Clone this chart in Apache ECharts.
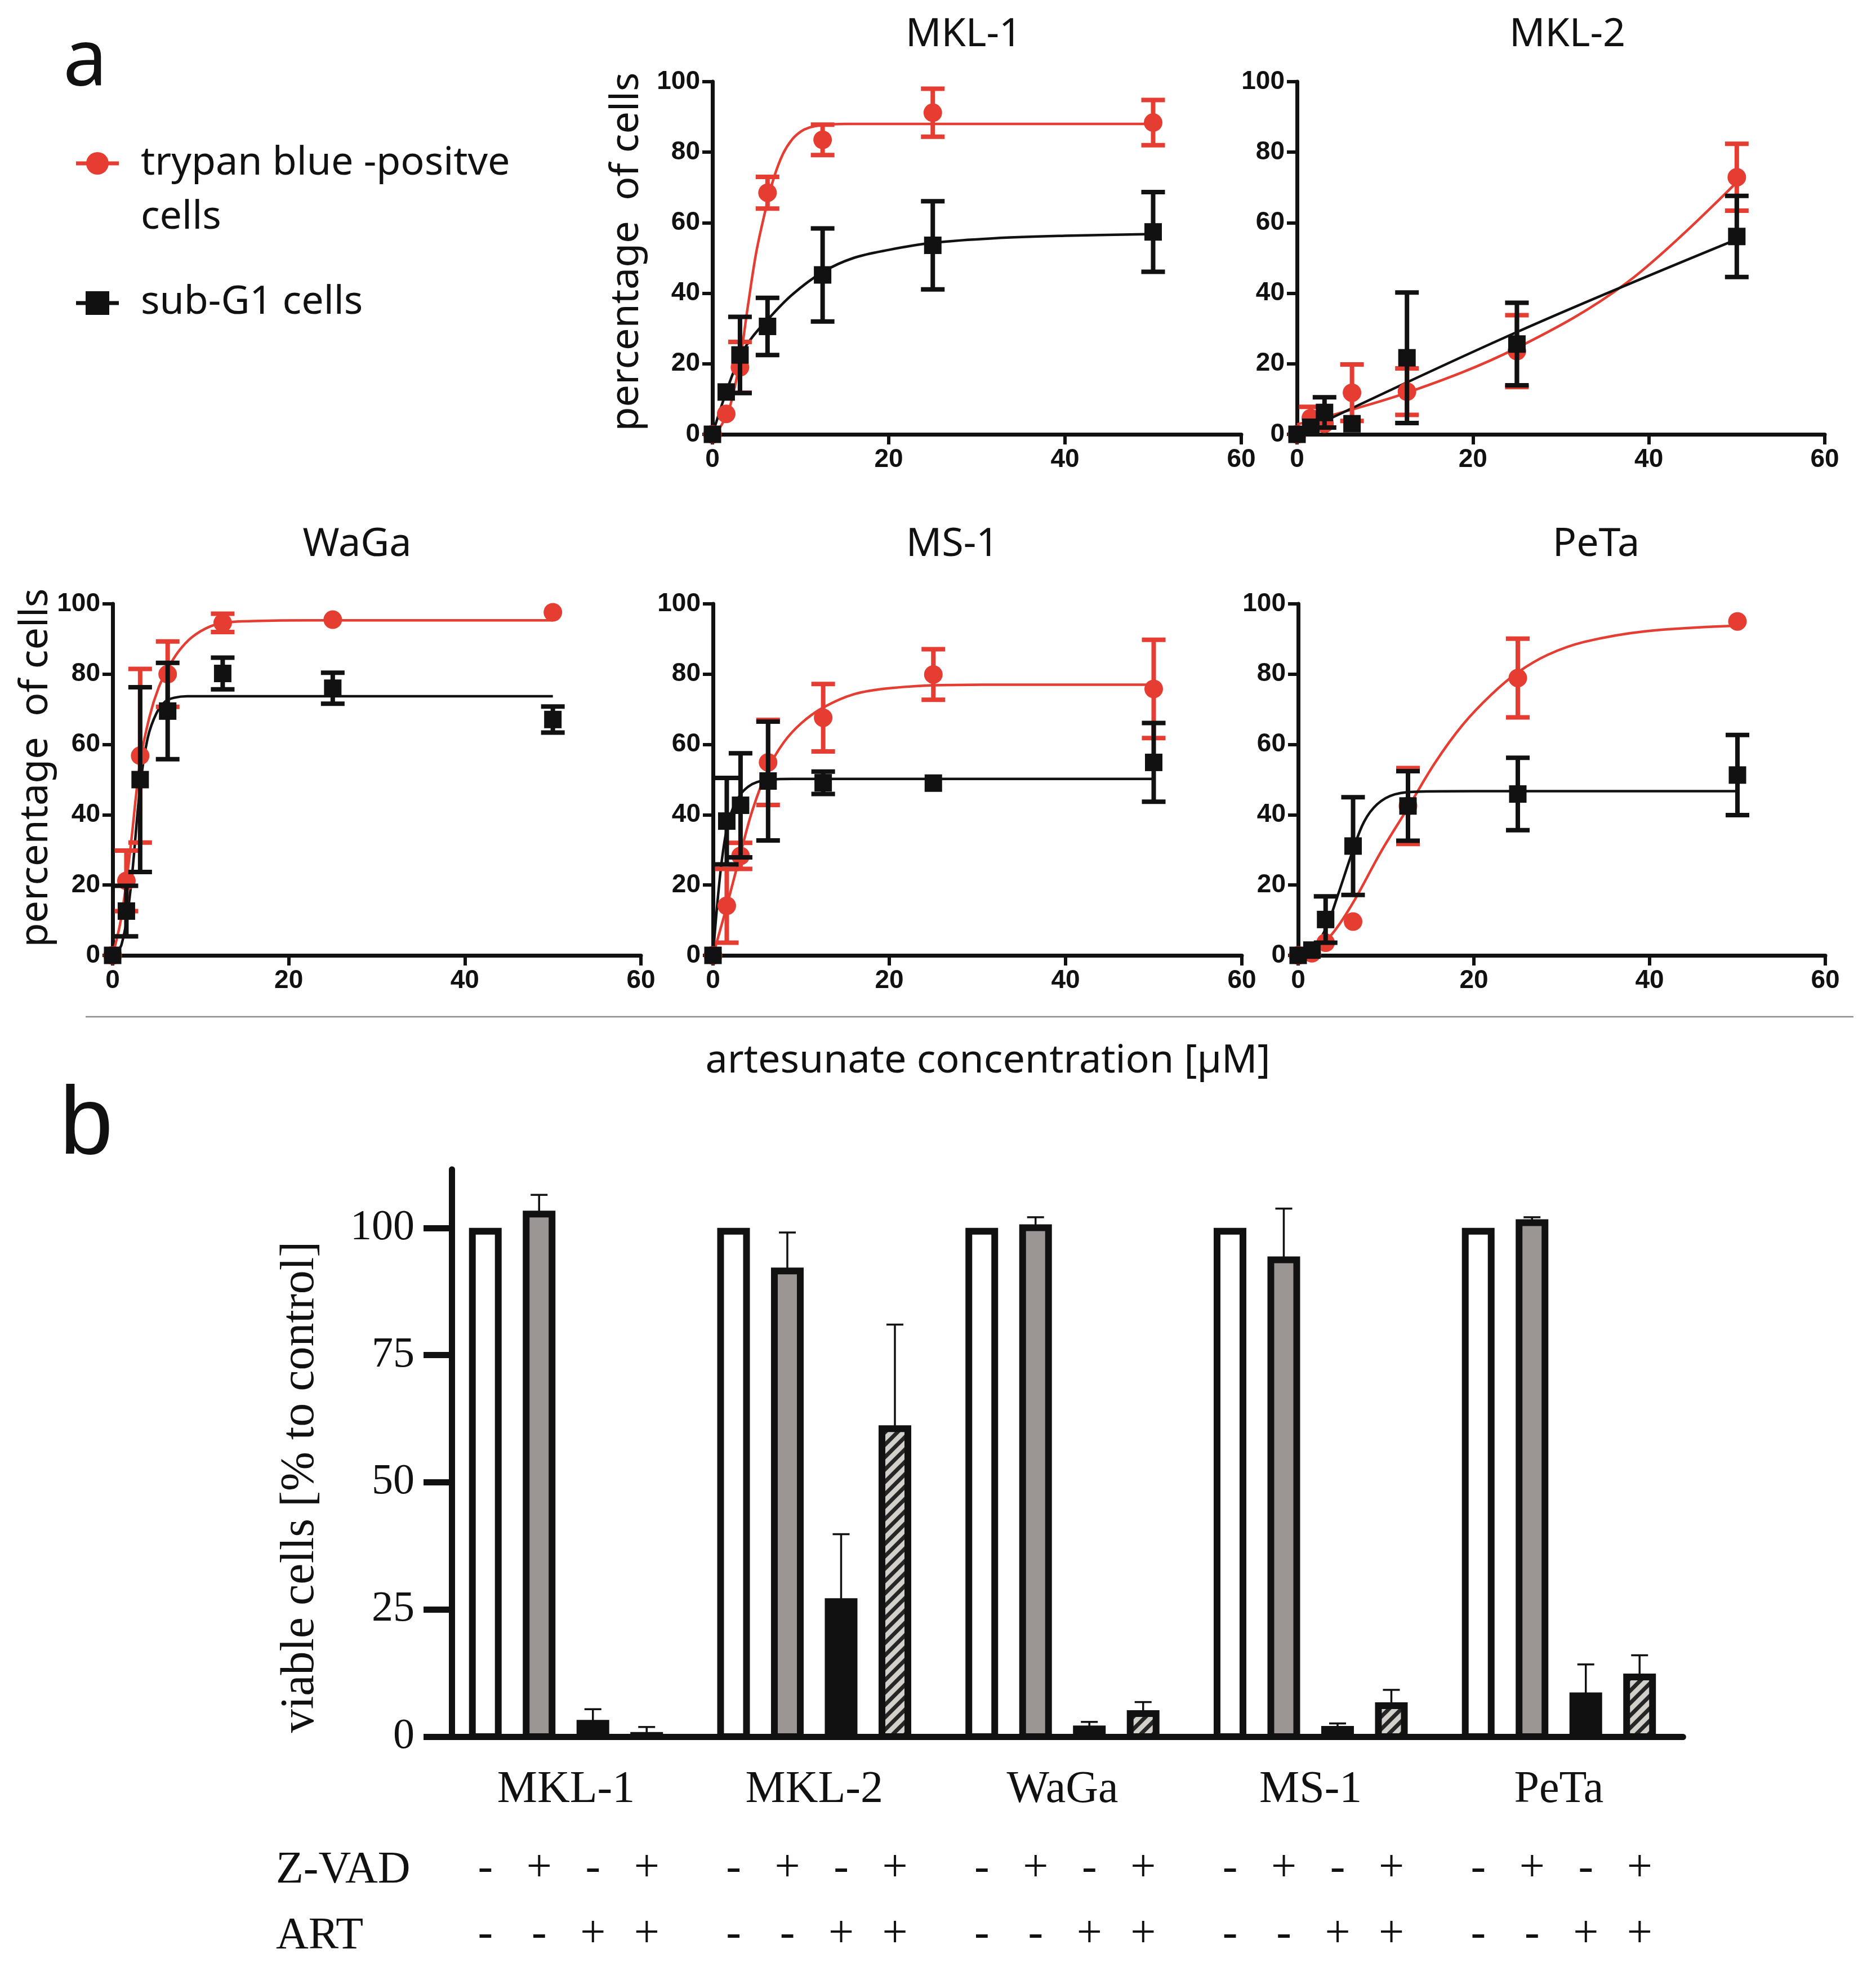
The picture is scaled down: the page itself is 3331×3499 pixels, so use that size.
<!DOCTYPE html>
<html>
<head>
<meta charset="utf-8">
<script src="https://cdn.jsdelivr.net/npm/echarts@6/dist/echarts.min.js"></script>
<style>html,body{margin:0;padding:0;background:#fff}#c{width:3331px;height:3499px}</style>
</head>
<body>
<div id="c"></div>
<script>
// ---------------- DATA ----------------
const conc = [0, 1.5625, 3.125, 6.25, 12.5, 25, 50];
const panelNames = ['MKL-1', 'MKL-2', 'WaGa', 'MS-1', 'PeTa'];
const xTicks = [0, 20, 40, 60];
const yTicks = [0, 20, 40, 60, 80, 100];

// MKL-1
const mkl1Trypan   = [0, 5.8, 19.0, 68.5, 83.5, 91.2, 88.4];
const mkl1TrypanSd = [0, 0, 7.2, 4.5, 4.3, 6.8, 6.4];
const mkl1SubG1    = [0, 12.0, 22.5, 30.6, 45.2, 53.6, 57.4];
const mkl1SubG1Sd  = [0, 0, 10.8, 8.1, 13.2, 12.5, 11.3];
const mkl1TrypanFit = [[0,0],[1,2.5],[2,8],[3.125,21],[4,36],[5,52],[6.25,66],[7,73],[8,79.5],[9,83.5],[10,85.8],[11,87],[12.5,87.7],[15,88],[20,88],[35,88],[50,88]];
const mkl1SubG1Fit  = [[0,0],[1.5625,12],[3.125,22],[4.5,27.5],[6.25,32.5],[9,39.5],[12.5,46],[16,50],[20,52.3],[25,54.3],[32,55.6],[40,56.3],[50,56.8]];

// MKL-2
const mkl2Trypan   = [0, 4.6, 3.0, 11.8, 12.1, 23.6, 72.9];
const mkl2TrypanSd = [0, 3.2, 0, 8.0, 6.6, 10.2, 9.5];
const mkl2SubG1    = [0, 2.0, 6.2, 3.0, 21.7, 25.6, 56.1];
const mkl2SubG1Sd  = [0, 0, 4.3, 0, 18.5, 11.7, 11.5];
const mkl2TrypanFit = [[0,2.8],[12.5,11.8],[25,24.5],[37.5,43],[50,71.5]];
const mkl2SubG1Fit  = [[0,0],[25,29],[50,55.3]];

// WaGa
const wagaTrypan   = [0, 21.2, 56.8, 80.0, 94.6, 95.5, 97.6];
const wagaTrypanSd = [0, 8.6, 24.7, 9.3, 2.6, 0, 0];
const wagaSubG1    = [0, 12.6, 50.0, 69.5, 80.2, 76.0, 67.1];
const wagaSubG1Sd  = [0, 7.2, 26.3, 13.7, 4.5, 4.4, 3.7];
const wagaTrypanFit = [[0,0],[1,11],[2,30],[3.125,55],[4.2,68],[5.2,76],[6.25,81.5],[7.5,86.5],[9,90.5],[11,93.5],[13,94.7],[16,95.1],[22,95.3],[50,95.3]];
const wagaSubG1Fit  = [[0,0],[1,3],[2,18],[3.125,48],[4,62],[5,69],[6,72.3],[7,73.3],[8.5,73.7],[12,73.7],[50,73.7]];

// MS-1
const ms1Trypan   = [0, 14.1, 28.3, 54.9, 67.6, 79.9, 75.8];
const ms1TrypanSd = [0, 10.5, 3.7, 12.1, 9.6, 7.2, 14.0];
const ms1SubG1    = [0, 38.2, 42.7, 49.6, 49.1, 49.0, 54.9];
const ms1SubG1Sd  = [0, 12.3, 14.8, 16.9, 3.2, 0, 11.2];
const ms1TrypanFit = [[0,0],[1.5625,14],[3.125,29],[4.5,41.5],[6.25,53],[8,60.5],[10,66],[12.5,70.5],[16,74.3],[20,76],[26,76.9],[35,77],[50,77]];
const ms1SubG1Fit  = [[0,0],[0.5,15],[1,27],[1.5625,36],[2.2,41.5],[3.125,45.8],[4,48],[5,49.3],[6.5,50],[9,50.2],[50,50.2]];

// PeTa
const petaTrypan   = [0, 0.6, 3.6, 9.6, 42.5, 78.9, 95.0];
const petaTrypanSd = [0, 0, 0, 0, 10.8, 11.2, 0];
const petaSubG1    = [0, 1.5, 10.2, 31.1, 42.5, 45.9, 51.3];
const petaSubG1Sd  = [0, 0, 6.6, 13.9, 9.9, 10.3, 11.4];
const petaTrypanFit = [[0,0],[2,1.5],[4,6.5],[6.25,15],[9.5,29.8],[12.5,42],[15.5,54.5],[18.7,65.5],[22,74.2],[25,80.5],[28.4,85.5],[32.6,89.2],[39.5,92.2],[50,93.8]];
const petaSubG1Fit  = [[0,0],[1.5625,1.5],[3.125,7.5],[4.5,17],[6.25,30],[7.5,38],[9,43],[11,45.8],[14,46.6],[20,46.7],[50,46.7]];

// Panel b: viable cells [% to control]
const barTicks = [0, 25, 50, 75, 100];
const ctrlViable    = [100, 100, 100, 100, 100];
const zvadViable    = [103.4, 92.2, 100.7, 94.4, 101.7];
const zvadViableUp  = [106.5, 99.1, 102.1, 103.8, 102.1];
const artViable     = [3.3, 27.2, 2.2, 2.1, 8.7];
const artViableUp   = [5.4, 39.8, 2.9, 2.6, 14.2];
const comboViable   = [0.9, 61.2, 5.2, 6.75, 12.4];
const comboViableUp = [1.9, 81.0, 6.8, 9.2, 16.0];
const zvadSigns = ['-', '+', '-', '+'];
const artSigns  = ['-', '-', '+', '+'];

// ---------------- STYLE ----------------
const RED = '#e53d31';
const BLK = '#111111';
const SANS = '"Noto Sans", "Open Sans", sans-serif';
const ARIAL = '"Liberation Sans", Arial, sans-serif';
const SERIF = '"Liberation Serif", "Times New Roman", serif';

const panelData = [
  [mkl1Trypan, mkl1TrypanSd, mkl1SubG1, mkl1SubG1Sd, mkl1TrypanFit, mkl1SubG1Fit],
  [mkl2Trypan, mkl2TrypanSd, mkl2SubG1, mkl2SubG1Sd, mkl2TrypanFit, mkl2SubG1Fit],
  [wagaTrypan, wagaTrypanSd, wagaSubG1, wagaSubG1Sd, wagaTrypanFit, wagaSubG1Fit],
  [ms1Trypan, ms1TrypanSd, ms1SubG1, ms1SubG1Sd, ms1TrypanFit, ms1SubG1Fit],
  [petaTrypan, petaTrypanSd, petaSubG1, petaSubG1Sd, petaTrypanFit, petaSubG1Fit]
];

const panelRects = [
  {left: 1265, top: 145, width: 939, height: 626},
  {left: 2303, top: 145, width: 937, height: 626},
  {left: 200,  top: 1072, width: 938, height: 624},
  {left: 1266, top: 1072, width: 939, height: 624},
  {left: 2305, top: 1072, width: 936, height: 624}
];
const titlePos = [[1711, 62], [2783, 62], [634, 967], [1691, 967], [2834, 967]];

function hatchPattern() {
  const c = document.createElement('canvas');
  c.width = 22; c.height = 22;
  const g = c.getContext('2d');
  g.fillStyle = '#d3cfcb';
  g.fillRect(0, 0, 22, 22);
  g.strokeStyle = '#262626';
  g.lineWidth = 7;
  g.beginPath();
  g.moveTo(-5, 27); g.lineTo(27, -5);
  g.moveTo(-16, 16); g.lineTo(16, -16);
  g.moveTo(6, 38); g.lineTo(38, 6);
  g.stroke();
  return c;
}
const barFills = ['#ffffff', '#9b9594', BLK, {image: hatchPattern(), repeat: 'repeat'}];

function errRender(color) {
  return function (params, api) {
    const x = api.value(0), m = api.value(1), sd = api.value(2);
    if (!(sd > 0)) return {type: 'group', children: []};
    const p0 = api.coord([x, m - sd]), p1 = api.coord([x, m + sd]);
    const hw = 21, lw = 8;
    const st = {stroke: color, lineWidth: lw};
    return {type: 'group', children: [
      {type: 'line', shape: {x1: p0[0], y1: p0[1], x2: p1[0], y2: p1[1]}, style: st},
      {type: 'line', shape: {x1: p0[0] - hw, y1: p0[1], x2: p0[0] + hw, y2: p0[1]}, style: st},
      {type: 'line', shape: {x1: p1[0] - hw, y1: p1[1], x2: p1[0] + hw, y2: p1[1]}, style: st}
    ]};
  };
}

const grids = [], xAxes = [], yAxes = [], series = [];
panelRects.forEach((r, i) => {
  grids.push(Object.assign({containLabel: false, outerBoundsMode: 'none'}, r));
  const axisCommon = {
    gridIndex: i, type: 'value',
    axisLine: {show: true, onZero: false, lineStyle: {color: BLK, width: 7}},
    axisTick: {show: true, length: 18, lineStyle: {color: BLK, width: 6}},
    splitLine: {show: false},
    axisLabel: {fontFamily: ARIAL, fontWeight: 'bold', fontSize: 46, color: BLK, margin: 22}
  };
  xAxes.push(Object.assign({}, axisCommon, {min: xTicks[0], max: xTicks[xTicks.length - 1], interval: 20}));
  yAxes.push(Object.assign({}, axisCommon, {min: yTicks[0], max: yTicks[yTicks.length - 1], interval: 20}));
  const [tm, tsd, sm, ssd, tfit, sfit] = panelData[i];
  series.push({type: 'line', xAxisIndex: i, yAxisIndex: i, data: tfit, smooth: 0.35, showSymbol: false, symbol: 'none', lineStyle: {color: RED, width: 4.5}, z: 2, silent: true});
  series.push({type: 'line', xAxisIndex: i, yAxisIndex: i, data: sfit, smooth: 0.35, showSymbol: false, symbol: 'none', lineStyle: {color: BLK, width: 4.5}, z: 2, silent: true});
  series.push({type: 'custom', xAxisIndex: i, yAxisIndex: i, renderItem: errRender(RED), data: conc.map((c, j) => [c, tm[j], tsd[j]]), encode: {x: 0, y: 1}, z: 3});
  series.push({type: 'scatter', xAxisIndex: i, yAxisIndex: i, data: conc.map((c, j) => [c, tm[j]]), symbol: 'circle', symbolSize: 33, itemStyle: {color: RED, opacity: 1}, z: 4});
  series.push({type: 'custom', xAxisIndex: i, yAxisIndex: i, renderItem: errRender(BLK), data: conc.map((c, j) => [c, sm[j], ssd[j]]), encode: {x: 0, y: 1}, z: 5});
  series.push({type: 'scatter', xAxisIndex: i, yAxisIndex: i, data: conc.map((c, j) => [c, sm[j]]), symbol: 'rect', symbolSize: 31, itemStyle: {color: BLK, opacity: 1}, z: 6});
});

// ---- Panel b ----
const BI = 5;
grids.push({left: 784.6, top: 2076, width: 2203.75, height: 1007, containLabel: false, outerBoundsMode: 'none'});
xAxes.push({
  gridIndex: BI, type: 'category', data: panelNames,
  axisLine: {show: true, lineStyle: {color: BLK, width: 11}},
  axisTick: {show: false}, splitLine: {show: false},
  axisLabel: {fontFamily: SERIF, fontSize: 80, color: BLK, margin: 55}
});
yAxes.push({
  gridIndex: BI, type: 'value', min: 0, max: 111.5, offset: -17.4,
  axisLine: {show: true, lineStyle: {color: BLK, width: 11}},
  axisTick: {show: true, length: 50, customValues: barTicks, lineStyle: {color: BLK, width: 11}},
  splitLine: {show: false},
  axisLabel: {fontFamily: SERIF, fontSize: 76, color: BLK, margin: 66, customValues: barTicks}
});

const barSets = [[ctrlViable, ctrlViable], [zvadViable, zvadViableUp], [artViable, artViableUp], [comboViable, comboViableUp]];
const barData = [];
panelNames.forEach((n, g) => {
  barSets.forEach((s, b) => barData.push([g, b, s[0][g], s[1][g]]));
});
const BAR_STEP = 95.5 / 440.75, BAR_W = 58, BW = 12;
series.push({
  type: 'custom', xAxisIndex: BI, yAxisIndex: BI, data: barData, encode: {x: 0, y: 2}, clip: false, z: 3,
  renderItem: function (params, api) {
    const g = api.value(0), b = api.value(1), v = api.value(2), up = api.value(3);
    const band = api.size([1, 0])[0];
    const base = api.coord([g, 0]);
    const cx = base[0] + (b - 1.5) * band * BAR_STEP;
    const topY = api.coord([g, v])[1];
    const ch = [];
    if (up > v) {
      const upY = api.coord([g, up])[1];
      ch.push({type: 'line', shape: {x1: cx, y1: topY + 2, x2: cx, y2: upY}, style: {stroke: BLK, lineWidth: 3.5}});
      ch.push({type: 'line', shape: {x1: cx - 15, y1: upY, x2: cx + 15, y2: upY}, style: {stroke: BLK, lineWidth: 3.5}});
    }
    ch.push({type: 'rect', shape: {x: cx - BAR_W / 2 + BW / 2, y: topY + BW / 2, width: BAR_W - BW, height: Math.max(0, base[1] - topY - BW / 2)},
      style: {fill: barFills[b], stroke: BLK, lineWidth: BW}});
    const tf = '80px ' + SERIF;
    ch.push({type: 'text', x: cx, y: base[1] + 235, style: {text: zvadSigns[b], font: tf, fill: BLK, align: 'center', verticalAlign: 'middle', textAlign: 'center', textVerticalAlign: 'middle'}});
    ch.push({type: 'text', x: cx, y: base[1] + 352, style: {text: artSigns[b], font: tf, fill: BLK, align: 'center', verticalAlign: 'middle', textAlign: 'center', textVerticalAlign: 'middle'}});
    return {type: 'group', children: ch};
  }
});

// ---- Texts / decorations ----
function txt(t, x, y, font, opts) {
  const o = Object.assign({align: 'left', rot: 0, color: BLK}, opts || {});
  return {type: 'text', x: x, y: y, rotation: o.rot, silent: true,
    style: {text: t, font: font, fill: o.color, align: o.align, verticalAlign: 'middle', textAlign: o.align, textVerticalAlign: 'middle'}};
}
const graphic = [];
graphic.push(txt('a', 112, 112, '140px ' + SANS));
graphic.push(txt('b', 106, 2001, '170px ' + ARIAL));
// legend
graphic.push({type: 'line', shape: {x1: 135, y1: 290, x2: 211, y2: 290}, style: {stroke: RED, lineWidth: 7}, silent: true});
graphic.push({type: 'circle', shape: {cx: 173, cy: 290, r: 20}, style: {fill: RED}, silent: true});
graphic.push({type: 'line', shape: {x1: 135, y1: 538, x2: 211, y2: 538}, style: {stroke: BLK, lineWidth: 7}, silent: true});
graphic.push({type: 'rect', shape: {x: 152, y: 517, width: 42, height: 42}, style: {fill: BLK}, silent: true});
graphic.push(txt('trypan blue -positve', 250, 290, '70px ' + SANS));
graphic.push(txt('cells', 250, 386, '70px ' + SANS));
graphic.push(txt('sub-G1 cells', 250, 537, '70px ' + SANS));
// panel titles
panelNames.forEach((n, i) => graphic.push(txt(n, titlePos[i][0], titlePos[i][1], '70px ' + SANS, {align: 'center'})));
// axis titles
graphic.push(txt('percentage  of cells', 1113, 447, '70px ' + SANS, {align: 'center', rot: Math.PI / 2}));
graphic.push(txt('percentage  of cells', 64, 1363, '70px ' + SANS, {align: 'center', rot: Math.PI / 2}));
graphic.push({type: 'line', shape: {x1: 152, y1: 1805, x2: 3291, y2: 1805}, style: {stroke: '#8a8a8a', lineWidth: 2.5}, silent: true});
graphic.push(txt('artesunate concentration [µM]', 1754, 1884, '70px ' + SANS, {align: 'center'}));
graphic.push(txt('viable cells [% to control]', 534, 2640, '84px ' + SERIF, {align: 'center', rot: Math.PI / 2}));
graphic.push(txt('Z-VAD', 490, 3321, '80px ' + SERIF));
graphic.push(txt('ART', 490, 3438, '80px ' + SERIF));

const chart = echarts.init(document.getElementById('c'), null, {renderer: 'canvas'});
chart.setOption({
  backgroundColor: '#ffffff',
  animation: false,
  grid: grids,
  xAxis: xAxes,
  yAxis: yAxes,
  series: series,
  graphic: graphic
});
</script>
</body>
</html>
